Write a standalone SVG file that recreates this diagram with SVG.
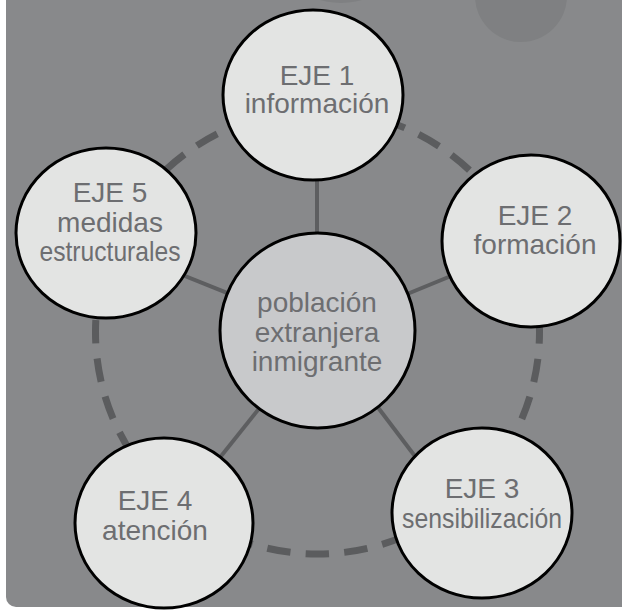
<svg xmlns="http://www.w3.org/2000/svg" width="622" height="614" viewBox="0 0 622 614">
<style>
.bg{fill:#88898b}
.blob{fill:#7f8082}
.ring{fill:none;stroke:#5b5c5e;stroke-width:7;stroke-dasharray:23.5 15.25;stroke-dashoffset:11.75}
.link{stroke:#5d5e60;stroke-width:4;fill:none}
.node{fill:#e3e4e3;stroke:#000;stroke-width:3}
.hub{fill:#c8c9cb;stroke:#000;stroke-width:3}
text{font-family:"Liberation Sans",Arial,sans-serif;font-size:28px;fill:#6d6e71;text-anchor:middle}
</style>
<rect width="622" height="614" fill="#ffffff"/>
<rect class="bg" x="6" y="-30" width="650" height="637" rx="10"/>
<circle class="blob" cx="341" cy="-72" r="75"/>
<circle class="blob" cx="521" cy="-4" r="46"/>
<g id="connectors">
<circle class="ring" cx="317.5" cy="332" r="222"/>
<line class="link" x1="317" y1="331" x2="317" y2="120"/>
<line class="link" x1="317" y1="331" x2="490" y2="260"/>
<line class="link" x1="320" y1="331" x2="433" y2="480"/>
<line class="link" x1="321" y1="331" x2="202" y2="480"/>
<line class="link" x1="317" y1="329" x2="150" y2="262"/>
</g>
<g id="node-eje1">
<ellipse class="node" cx="313" cy="95" rx="90" ry="85"/>
<text x="317" y="85">EJE 1</text>
<text x="317" y="113">información</text>
</g>
<g id="node-eje2">
<ellipse class="node" cx="531" cy="241" rx="89" ry="86"/>
<text x="535" y="225">EJE 2</text>
<text x="535" y="254">formación</text>
</g>
<g id="node-eje3">
<ellipse class="node" cx="482" cy="513" rx="90" ry="85"/>
<text x="482" y="498">EJE 3</text>
<text x="482" y="528" textLength="160" lengthAdjust="spacingAndGlyphs">sensibilización</text>
</g>
<g id="node-eje4">
<ellipse class="node" cx="164" cy="523" rx="89" ry="85"/>
<text x="155" y="510">EJE 4</text>
<text x="155" y="540">atención</text>
</g>
<g id="node-eje5">
<ellipse class="node" cx="106" cy="233" rx="90" ry="85"/>
<text x="110" y="202">EJE 5</text>
<text x="110" y="232">medidas</text>
<text x="110" y="261" textLength="141" lengthAdjust="spacingAndGlyphs">estructurales</text>
</g>
<g id="node-center">
<circle class="hub" cx="317.5" cy="330.5" r="97.5"/>
<text x="317" y="312">población</text>
<text x="317" y="342">extranjera</text>
<text x="317" y="371">inmigrante</text>
</g>
</svg>
